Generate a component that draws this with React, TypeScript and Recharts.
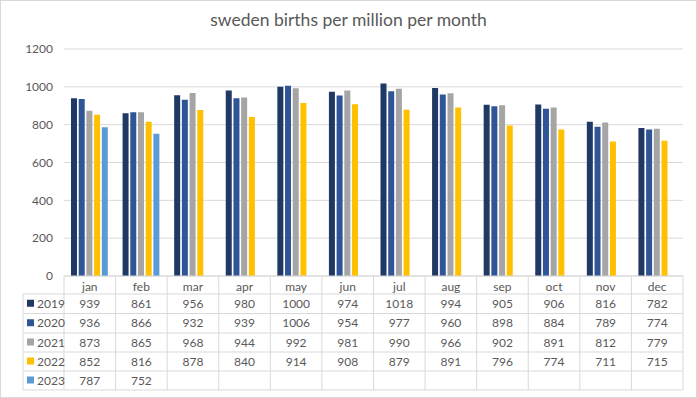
import { BarChart, Bar, XAxis, YAxis, CartesianGrid } from "recharts";

const months = ["jan", "feb", "mar", "apr", "may", "jun", "jul", "aug", "sep", "oct", "nov", "dec"];
const y2019 = [939, 861, 956, 980, 1000, 974, 1018, 994, 905, 906, 816, 782];
const y2020 = [936, 866, 932, 939, 1006, 954, 977, 960, 898, 884, 789, 774];
const y2021 = [873, 865, 968, 944, 992, 981, 990, 966, 902, 891, 812, 779];
const y2022 = [852, 816, 878, 840, 914, 908, 879, 891, 796, 774, 711, 715];
const y2023 = [787, 752, null, null, null, null, null, null, null, null, null, null];
const yTicks = [0, 200, 400, 600, 800, 1000, 1200];

const series = [
  { key: "2019", values: y2019, color: "#203864" },
  { key: "2020", values: y2020, color: "#2F5597" },
  { key: "2021", values: y2021, color: "#A5A5A5" },
  { key: "2022", values: y2022, color: "#FFC000" },
  { key: "2023", values: y2023, color: "#5B9BD5" },
];

const data = months.map((m, i) => {
  const row: any = { month: m };
  series.forEach((s) => (row[s.key] = s.values[i]));
  return row;
});

const W = 697;
const H = 398;
const plotLeft = 64;
const plotRight = 683;
const plotTop = 49;
const plotBottom = 276;
const band = (plotRight - plotLeft) / months.length;
const tableLeft = 23;
const rowLines = [294, 313.5, 333, 352, 371, 390];
const font = "Lato, 'Open Sans', sans-serif";
const textColor = "#595959";
const lineColor = "#d9d9d9";

function DataTable() {
  return (
    <svg width={W} height={H} style={{ position: "absolute", left: 0, top: 0, pointerEvents: "none" }}>
      <rect x={0.5} y={0.5} width={W - 1} height={H - 1} fill="none" stroke={lineColor} />
      <text x={W / 2} y={26} textAnchor="middle" fontFamily={font} fontSize={17.5} fill={textColor}>
        sweden births per million per month
      </text>
      {rowLines.map((y) => (
        <line key={y} x1={tableLeft} x2={plotRight} y1={y} y2={y} stroke={lineColor} />
      ))}
      <line x1={tableLeft} x2={tableLeft} y1={rowLines[0]} y2={rowLines[5]} stroke={lineColor} />
      {months.map((m, i) => (
        <line key={m} x1={plotLeft + i * band} x2={plotLeft + i * band} y1={plotBottom} y2={rowLines[5]} stroke={lineColor} />
      ))}
      <line x1={plotRight} x2={plotRight} y1={plotBottom} y2={rowLines[5]} stroke={lineColor} />
      {series.map((s, r) => {
        const cy = (rowLines[r] + rowLines[r + 1]) / 2 + 4;
        return (
          <g key={s.key}>
            <rect x={27} y={cy - 8} width={7} height={7} fill={s.color} />
            <text x={37} y={cy} fontFamily={font} fontSize={12} fill={textColor}>
              {s.key}
            </text>
            {s.values.map((v, i) =>
              v == null ? null : (
                <text key={i} x={plotLeft + (i + 0.5) * band} y={cy} textAnchor="middle" fontFamily={font} fontSize={12} fill={textColor}>
                  {v}
                </text>
              )
            )}
          </g>
        );
      })}
    </svg>
  );
}

export default function App() {
  return (
    <div style={{ position: "absolute", left: 0, top: 0, width: W, height: H, background: "#fff" }}>
      <BarChart
        width={W}
        height={H}
        data={data}
        margin={{ top: plotTop, right: W - plotRight, left: plotLeft - 50, bottom: H - plotBottom - 20 }}
        barCategoryGap={7}
        barGap={1.7}
      >
        <CartesianGrid vertical={false} stroke={lineColor} />
        <XAxis
          dataKey="month"
          height={20}
          tickLine={false}
          axisLine={{ stroke: lineColor }}
          tick={{ fontFamily: font, fontSize: 12, fill: textColor }}
          tickMargin={0}
        />
        <YAxis
          width={50}
          domain={[0, 1200]}
          ticks={yTicks}
          tickLine={false}
          axisLine={false}
          tick={{ fontFamily: font, fontSize: 12, fill: textColor }}
          tickMargin={5}
        />
        {series.map((s) => (
          <Bar key={s.key} dataKey={s.key} fill={s.color} isAnimationActive={false} />
        ))}
      </BarChart>
      <DataTable />
    </div>
  );
}
